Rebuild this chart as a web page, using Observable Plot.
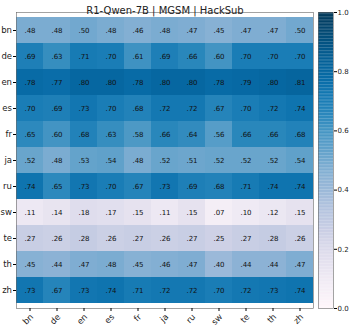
<!DOCTYPE html>
<html>
<head>
<meta charset="utf-8">
<script src="https://cdn.jsdelivr.net/npm/d3@7"></script>
<script src="https://cdn.jsdelivr.net/npm/@observablehq/plot@0.6"></script>
<style>
  body { margin: 0; background: #fff; }
  #wrap { position: relative; width: 349px; height: 326px; }
  #wrap svg { position: absolute; left: 0; top: 0; font-family: "DejaVu Sans", sans-serif; }
</style>
</head>
<body>
<div id="wrap"></div>
<script>
const title = "R1-Qwen-7B | MGSM | HackSub";
const langs = ["bn", "de", "en", "es", "fr", "ja", "ru", "sw", "te", "th", "zh"];
const bn = [.48, .48, .50, .48, .46, .48, .47, .45, .47, .47, .50];
const de = [.69, .63, .71, .70, .61, .69, .66, .60, .70, .70, .70];
const en = [.78, .77, .80, .80, .78, .80, .80, .78, .79, .80, .81];
const es = [.70, .69, .73, .70, .68, .72, .72, .67, .70, .72, .74];
const fr = [.65, .60, .68, .63, .58, .66, .64, .56, .66, .66, .68];
const ja = [.52, .48, .53, .54, .48, .52, .51, .52, .52, .52, .54];
const ru = [.74, .65, .73, .70, .67, .73, .69, .68, .71, .74, .74];
const sw = [.11, .14, .18, .17, .15, .11, .15, .07, .10, .12, .15];
const te = [.27, .26, .28, .26, .27, .26, .27, .25, .27, .28, .26];
const th = [.45, .44, .47, .48, .45, .46, .47, .40, .44, .44, .47];
const zh = [.73, .67, .73, .74, .71, .72, .72, .70, .72, .73, .74];
const colorTicks = [0, 0.2, 0.4, 0.6, 0.8, 1.0];

const rows = {bn, de, en, es, fr, ja, ru, sw, te, th, zh};
const data = [];
for (const r of langs) rows[r].forEach((v, i) => data.push({row: r, col: langs[i], value: v}));

const fmt = v => d3.format(".2f")(v).replace(/^0/, "");
const color = {type: "linear", scheme: "PuBu", domain: [0, 1]};

const heat = Plot.plot({
  width: 349, height: 326,
  marginLeft: 16, marginRight: 36, marginTop: 12, marginBottom: 18,
  style: {fontFamily: "DejaVu Sans, sans-serif", fontSize: "8px", background: "transparent"},
  x: {domain: langs, padding: 0, label: null, axis: null},
  y: {domain: langs, padding: 0, label: null, axis: null},
  color,
  marks: [
    Plot.cell(data, {x: "col", y: "row", fill: "value", inset: 0}),
    Plot.text(data, {x: "col", y: "row", text: d => fmt(d.value), fill: "#111", fontSize: 7}),
    Plot.frame({stroke: "#666", strokeWidth: 0.6}),
    Plot.axisY({anchor: "left", tickSize: 3, tickPadding: 1.5, fontSize: 8.5, fill: "#222"}),
    Plot.axisX({anchor: "bottom", tickSize: 3, text: null}),
    Plot.text(langs, {x: d => d, frameAnchor: "bottom", text: d => d, rotate: -45, textAnchor: "end", lineAnchor: "middle", dy: 7, dx: 2, fontSize: 8.5, fill: "#222"}),
    Plot.text([title], {frameAnchor: "top", dy: -6, fontSize: 10, fill: "#222"})
  ]
});

const steps = d3.range(0, 1, 0.005).map(v => ({v0: v, v1: Math.min(1, v + 0.0055), v: v + 0.0025}));
const bar = Plot.plot({
  width: 349, height: 326,
  marginLeft: 318, marginRight: 16, marginTop: 12, marginBottom: 18,
  style: {fontFamily: "DejaVu Sans, sans-serif", fontSize: "7px", background: "transparent"},
  x: {domain: [0, 1], axis: null},
  y: {domain: [0, 1], axis: null},
  color,
  marks: [
    Plot.rect(steps, {x1: 0, x2: 1, y1: "v0", y2: "v1", fill: "v"}),
    Plot.frame({stroke: "#666", strokeWidth: 0.6}),
    Plot.axisY(colorTicks, {anchor: "right", tickSize: 3, tickPadding: 1, tickFormat: d3.format(".1f"), fontSize: 7, fill: "#222"})
  ]
});

const wrap = document.getElementById("wrap");
wrap.appendChild(heat);
wrap.appendChild(bar);
</script>
</body>
</html>
